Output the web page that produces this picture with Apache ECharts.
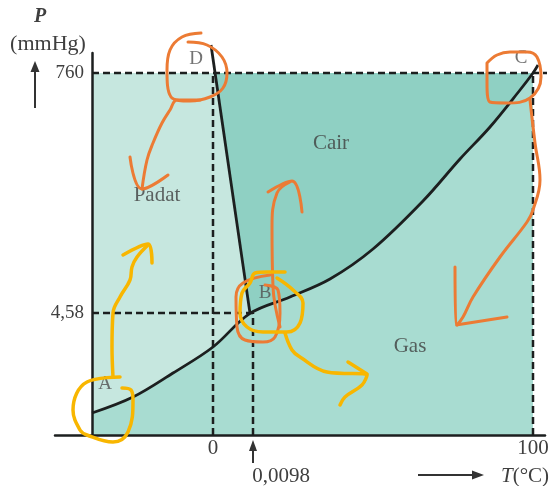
<!DOCTYPE html>
<html>
<head>
<meta charset="utf-8">
<script src="https://cdn.jsdelivr.net/npm/echarts@6/dist/echarts.min.js"></script>
<style>html,body{margin:0;padding:0;background:#fff}#c{width:560px;height:486px}</style>
</head>
<body>
<div id="c"></div>
<script>
// Schematic phase diagram of water (not to scale). Units are schematic.
const xTickPos = [30.25, 110.25];
const xTickLabels = ['0', '100'];
const yTickPos = [30.5, 90.5];
const yTickLabels = ['4,58', '760'];
const tripleTickPos = 40.25;
const tripleTickLabel = '0,0098';

// boiling / sublimation curve A -> B -> C
const vaporCurve = [[0,5.5],[10.25,9.5],[20.25,15.5],[30.25,22],[39.5,30.4],[49.5,34.5],[59.5,39],[70.25,46.5],[82.75,58.5],[92,69],[99.5,77],[107,86.25],[110.25,90.5],[111.5,92.5]];
// melting curve D -> B
const meltCurve = [[29.75,97.5],[39.5,30.4]];

// phase regions
const gasRegion = [[0,0],[110.25,0],[110.25,90.5],[0,90.5]];
const solidRegion = [[0,90.5],[30.77,90.5],[39.5,30.4],[30.25,22],[20.25,15.5],[10.25,9.5],[0,5.5]];
const liquidRegion = [[30.77,90.5],[110.25,90.5],[107,86.25],[99.5,77],[92,69],[82.75,58.5],[70.25,46.5],[59.5,39],[49.5,34.5],[39.5,30.4]];

// guide (dashed) lines
const guide760 = [[0,90.5],[114,90.5]];
const guide458 = [[0,30.5],[40.25,30.5]];
const guide0 = [[30.25,0],[30.25,90.5]];
const guideTriple = [[40.25,0],[40.25,30.5]];
const guide100 = [[110.25,0],[110.25,90.5]];

const phaseLabels = [
  {name:'Padat', value:[16.25,60]},
  {name:'Cair', value:[59.75,73]},
  {name:'Gas', value:[79.5,22.25]}
];
const pointLabels = [
  {name:'A', value:[3.25,12.75]},
  {name:'B', value:[43.25,35.5]},
  {name:'C', value:[107.25,94.25]},
  {name:'D', value:[26,94]}
];

// hand-drawn annotations
const orangeStrokes = [
  [[27.25,100.5],[22.5,99.5],[19.5,96.25],[18.75,91.25],[19.75,84.5],[24.5,83.5],[29.5,84.5],[32.75,86.75],[33.75,90.5],[32.5,94.5],[28.75,97.5],[24,98.25]],
  [[27,83.75],[21.25,83.75],[19.5,81.25],[17.5,78],[15.25,73],[13.75,68.75],[12.5,61.5]],
  [[9.5,69.5],[12.5,61.5],[19,65]],
  [[98.75,93],[101.25,95],[104.5,95.75],[108.75,95.75],[111.25,94.5],[112.25,89.5],[109.5,84.25],[103.75,83],[99.5,83.25],[98.75,88],[98.75,93]],
  [[109.5,83.75],[110.75,73],[112,63.75],[110.25,56.25],[108.75,53.25],[102,44.5],[95.25,34.5],[92.75,29.5],[91.25,27.5]],
  [[90.75,42],[91,27.5],[103.75,29.5]],
  [[44.5,40],[37.75,38],[36,34.5],[36.25,27],[38.25,23.75],[42.75,23.25],[45.75,24.5],[47,30.5],[46.5,36.25],[43.25,37.5]],
  [[47,27],[45.25,37],[45,52],[46.25,60.5],[49.5,63.25]],
  [[44,60.75],[50,63.5],[52.5,55.75]]
];
const yellowStrokes = [
  [[7,14.5],[-1.25,13.25],[-4.75,6.25],[-3,1.25],[-1.25,0],[5.25,-1.75],[9,0.75],[10.25,8.75],[9.75,11.25],[7.5,11.75]],
  [[5.25,14.5],[5,22],[5.25,30.5],[7,34.5],[9.5,38.75],[10,42],[11.25,44.5],[14,47.5]],
  [[7.75,45],[14,47.75],[15,43]],
  [[46.25,39.25],[50.25,36.25],[52.75,33],[52,28],[48.75,25.75],[42.75,25.75],[38.75,27],[37,30.5],[37.5,35.5],[39.5,38],[40.75,40.5],[43.75,40.75],[48.25,40.75]],
  [[48.25,25.5],[50,21.25],[52,19.5],[58.75,15.75],[68.75,15],[67.5,12.5],[63.25,9.5],[62,7.5]],
  [[64,18.25],[68.75,15.25]]
];

const regions = [gasRegion, solidRegion, liquidRegion];
const regionColors = ['#a8dcd1', '#c6e7df', '#8fd0c3'];

const FONT = '"Liberation Serif", "DejaVu Serif", serif';
const TXT = '#3f3f3f';
const INK = '#1c1f1f';

function guideSeries(d) {
  return {type:'line', data:d, symbol:'none', clip:false, silent:true, z:3,
    lineStyle:{color:INK, width:2.5, type:[7,4]}};
}
function strokeSeries(d, color, w) {
  return {type:'line', data:d, symbol:'none', clip:false, silent:true, z:8, smooth:0.4,
    lineStyle:{color:color, width:w, cap:'round', join:'round'}};
}

const chart = echarts.init(document.getElementById('c'), null, {renderer:'canvas'});
const series = [
  {type:'custom', z:1, silent:true, clip:false, data:[[0],[1],[2]],
    renderItem:function(params, api){
      const pts = regions[params.dataIndex].map(p => api.coord(p));
      return {type:'polygon', shape:{points:pts}, style:{fill:regionColors[params.dataIndex]}};
    }},
  guideSeries(guide760), guideSeries(guide458), guideSeries(guide0), guideSeries(guideTriple), guideSeries(guide100),
  {type:'line', data:vaporCurve, symbol:'none', smooth:0.35, clip:false, z:4, silent:true,
    lineStyle:{color:INK, width:2.8}},
  {type:'line', data:meltCurve, symbol:'none', clip:false, z:4, silent:true,
    lineStyle:{color:INK, width:2.8}},
  {type:'scatter', data:phaseLabels, symbolSize:0, z:6, silent:true,
    label:{show:true, position:'inside', formatter:'{b}', fontFamily:FONT, fontSize:21, color:TXT}},
  {type:'scatter', data:pointLabels, symbolSize:0, z:6, silent:true,
    label:{show:true, position:'inside', formatter:'{b}', fontFamily:FONT, fontSize:19, color:'#505050'}}
];
orangeStrokes.forEach(s => series.push(strokeSeries(s, '#ec7b34', 3)));
yellowStrokes.forEach(s => series.push(strokeSeries(s, '#f8b600', 3.5)));

chart.setOption({
  animation:false,
  backgroundColor:'#fff',
  grid:{left:55, right:15, top:53, bottom:51, containLabel:false, outerBoundsMode:'none'},
  xAxis:{type:'value', min:-9.25, max:113.25, z:5,
    axisLine:{show:true, onZero:true, lineStyle:{color:INK, width:2.5}},
    axisTick:{show:false}, splitLine:{show:false},
    axisLabel:{customValues:xTickPos, margin:3, fontFamily:FONT, fontSize:21, color:TXT,
      formatter:function(v){ const i = xTickPos.indexOf(v); return i >= 0 ? xTickLabels[i] : ''; }}},
  yAxis:{type:'value', min:0, max:95.5, z:5,
    axisLine:{show:true, onZero:true, lineStyle:{color:INK, width:2.5}},
    axisTick:{show:false}, splitLine:{show:false},
    axisLabel:{customValues:yTickPos, margin:-29, fontFamily:FONT, fontSize:19, color:TXT, align:'right',
      formatter:function(v){ const i = yTickPos.indexOf(v); return i >= 0 ? yTickLabels[i] : ''; }}},
  series:series
});

const tx = chart.convertToPixel({xAxisIndex:0}, tripleTickPos);
const ARW = '#333';
chart.setOption({
  graphic:[
    {type:'text', x:40, y:17, style:{text:'P', font:'italic bold 20px ' + FONT, fill:TXT, align:'center', verticalAlign:'middle'}},
    {type:'text', x:48, y:44, style:{text:'(mmHg)', font:'22px ' + FONT, fill:TXT, align:'center', verticalAlign:'middle'}},
    {type:'line', shape:{x1:35, y1:108, x2:35, y2:70}, style:{stroke:ARW, lineWidth:2}},
    {type:'polygon', shape:{points:[[35,61],[30.5,72],[39.5,72]]}, style:{fill:ARW}},
    {type:'line', shape:{x1:tx, y1:463, x2:tx, y2:449}, style:{stroke:ARW, lineWidth:2}},
    {type:'polygon', shape:{points:[[tx,440],[tx-4,451],[tx+4,451]]}, style:{fill:ARW}},
    {type:'text', x:tx + 28, y:476, style:{text:tripleTickLabel, font:'21px ' + FONT, fill:TXT, align:'center', verticalAlign:'middle'}},
    {type:'line', shape:{x1:418, y1:475, x2:474, y2:475}, style:{stroke:ARW, lineWidth:2}},
    {type:'polygon', shape:{points:[[484,475],[472,470.5],[472,479.5]]}, style:{fill:ARW}},
    {type:'text', x:525, y:476, style:{rich:{i:{font:'italic 21px ' + FONT, fill:TXT}, n:{font:'21px ' + FONT, fill:TXT}}, text:'{i|T}{n|(°C)}', align:'center', verticalAlign:'middle'}}
  ]
});
</script>
</body>
</html>
